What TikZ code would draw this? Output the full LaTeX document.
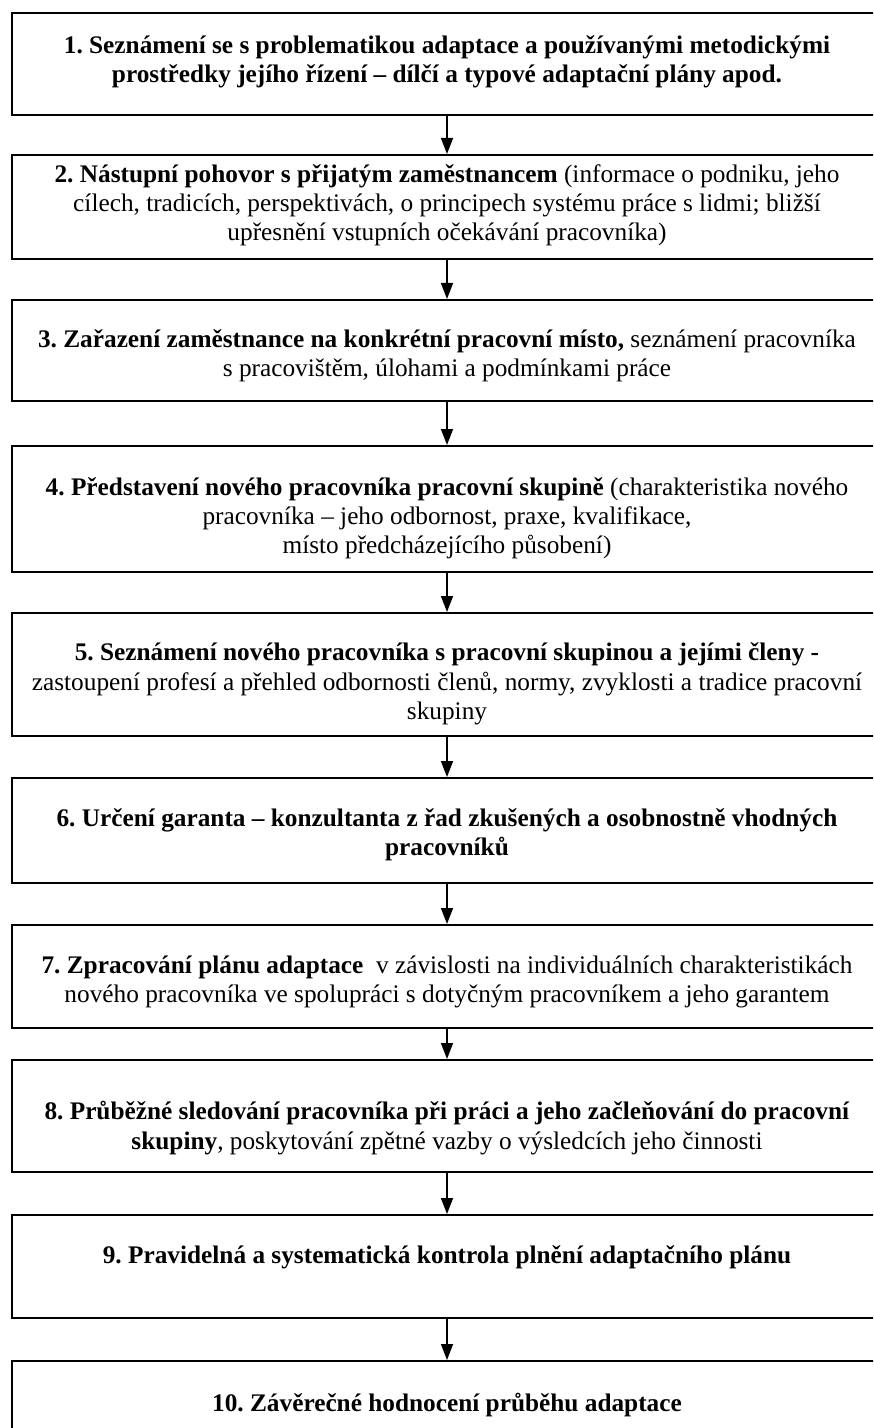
\documentclass[tikz,border=0pt]{standalone}
\usepackage{fontspec}
\setmainfont{Liberation Serif}
\usetikzlibrary{arrows.meta}
\frenchspacing
\tikzset{
  stepbox/.style={draw=black, line width=1pt, rectangle, minimum width=435pt, inner sep=0pt},
  txt/.style={align=center, inner sep=0pt, font=\fontsize{12.65}{14.6}\selectfont},
  flow/.style={line width=0.75pt, -{Triangle[length=8pt,width=6pt]}}
}
\begin{document}
\begin{tikzpicture}[x=0.5pt,y=-0.5pt]
\clip (0,0) rectangle (873,1428);
\fill[white] (0,0) rectangle (873,1428);
% boxes
\node[stepbox, minimum height=51pt] (b1) at (447,64) {};
\node[stepbox, minimum height=52pt] (b2) at (447,207) {};
\node[stepbox, minimum height=50.5pt] (b3) at (447,350.5) {};
\node[stepbox, minimum height=63pt] (b4) at (447,509) {};
\node[stepbox, minimum height=61.5pt] (b5) at (447,674.5) {};
\node[stepbox, minimum height=52.5pt] (b6) at (447,830.5) {};
\node[stepbox, minimum height=51.5pt] (b7) at (447,976.5) {};
\node[stepbox, minimum height=56pt] (b8) at (447,1116) {};
\node[stepbox, minimum height=51.5pt] (b9) at (447,1266.5) {};
\node[stepbox, minimum height=52pt] (b10) at (447,1413) {};
% texts
\node[txt] (t1) at (447,62) {\textbf{1. Seznámení se s problematikou adaptace a používanými metodickými}\\\textbf{prostředky jejího řízení – dílčí a typové adaptační plány apod.}};
\node[txt] (t2) at (447,205) {\textbf{2. Nástupní pohovor s přijatým zaměstnancem} (informace o podniku, jeho\\cílech, tradicích, perspektivách, o principech systému práce s lidmi; bližší\\upřesnění vstupních očekávání pracovníka)};
\node[txt] (t3) at (447,356) {\textbf{3. Zařazení zaměstnance na konkrétní pracovní místo,} seznámení pracovníka\\s pracovištěm, úlohami a podmínkami práce};
\node[txt] (t4) at (447,518) {\textbf{4. Představení nového pracovníka pracovní skupině} (charakteristika nového\\pracovníka – jeho odbornost, praxe, kvalifikace,\\místo předcházejícího působení)};
\node[txt] (t5) at (447,684) {\textbf{5. Seznámení nového pracovníka s pracovní skupinou a jejími členy -}\\zastoupení profesí a přehled odbornosti členů, normy, zvyklosti a tradice pracovní\\skupiny};
\node[txt] (t6) at (447,835) {\textbf{6. Určení garanta – konzultanta z řad zkušených a osobnostně vhodných}\\\textbf{pracovníků}};
\node[txt] (t7) at (447,982) {\textbf{7. Zpracování plánu adaptace}\ \ v závislosti na individuálních charakteristikách\\nového pracovníka ve spolupráci s dotyčným pracovníkem a jeho garantem};
\node[txt] (t8) at (447,1128) {\textbf{8. Průběžné sledování pracovníka při práci a jeho začleňování do pracovní}\\\textbf{skupiny}, poskytování zpětné vazby o výsledcích jeho činnosti};
\node[txt] (t9) at (447,1257) {\textbf{9. Pravidelná a systematická kontrola plnění adaptačního plánu}};
\node[txt] (t10) at (447,1405) {\textbf{10. Závěrečné hodnocení průběhu adaptace}};
% arrows
\draw[flow] (b1.south) -- (b2.north);
\draw[flow] (b2.south) -- (b3.north);
\draw[flow] (b3.south) -- (b4.north);
\draw[flow] (b4.south) -- (b5.north);
\draw[flow] (b5.south) -- (b6.north);
\draw[flow] (b6.south) -- (b7.north);
\draw[flow] (b7.south) -- (b8.north);
\draw[flow] (b8.south) -- (b9.north);
\draw[flow] (b9.south) -- (b10.north);
\end{tikzpicture}
\end{document}
